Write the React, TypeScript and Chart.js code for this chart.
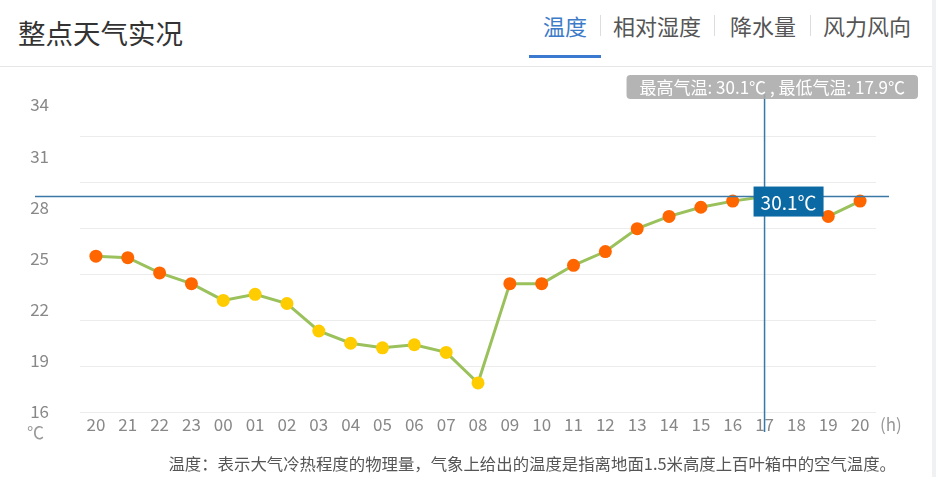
import React, { useEffect, useRef } from "react";
import { Chart, registerables } from "chart.js";

Chart.register(...registerables);

const hours = ["20", "21", "22", "23", "00", "01", "02", "03", "04", "05", "06", "07", "08", "09", "10", "11", "12", "13", "14", "15", "16", "17", "18", "19", "20"];
const temps = [26.2, 26.1, 25.1, 24.4, 23.3, 23.7, 23.1, 21.3, 20.5, 20.2, 20.4, 19.9, 17.9, 24.4, 24.4, 25.6, 26.5, 28.0, 28.8, 29.4, 29.8, 30.1, 29.5, 28.8, 29.8];
const yTickValues = [16, 19, 22, 25, 28, 31, 34];
const yLabelValues = [16, 19, 22, 25, 28, 31, 34];
const tabs = ["温度", "相对湿度", "降水量", "风力风向"];
const title = "整点天气实况";
const footnote = "温度：表示大气冷热程度的物理量，气象上给出的温度是指离地面1.5米高度上百叶箱中的空气温度。";
const warmThreshold = 24;

const FONT = "'Noto Sans CJK SC', 'Noto Sans', sans-serif";

const maxTemp = Math.max(...temps);
const minTemp = Math.min(...temps);
const maxIndex = temps.indexOf(maxTemp);

const crosshairPlugin = {
  id: "crosshair",
  afterDatasetsDraw(chart: any) {
    const { ctx, chartArea, scales } = chart;
    const x = scales.x.getPixelForValue(maxIndex);
    const y = scales.y.getPixelForValue(maxTemp);
    ctx.save();
    ctx.strokeStyle = "#3b78a6";
    ctx.lineWidth = 1.5;
    ctx.beginPath();
    ctx.moveTo(chartArea.left - 45, y);
    ctx.lineTo(chartArea.right + 13, y);
    ctx.stroke();
    ctx.beginPath();
    ctx.moveTo(x, 92);
    ctx.lineTo(x, chartArea.bottom + 20);
    ctx.stroke();

    // value box
    const label = `${maxTemp.toFixed(1)}℃`;
    ctx.font = `19px ${FONT}`;
    const bx = x - 11;
    const by = y - 10;
    const bw = 70;
    const bh = 30;
    ctx.fillStyle = "#0b69a3";
    ctx.fillRect(bx, by, bw, bh);
    ctx.fillStyle = "#ffffff";
    ctx.textAlign = "center";
    ctx.textBaseline = "middle";
    ctx.fillText(label, bx + bw / 2, by + bh / 2 + 1);

    // summary box
    const summary = `最高气温: ${maxTemp.toFixed(1)}℃ , 最低气温: ${minTemp.toFixed(1)}℃`;
    ctx.font = `17px ${FONT}`;
    const tw = ctx.measureText(summary).width;
    const sw = tw + 26;
    const sx = 918 - sw;
    const sy = 75;
    const sh = 24;
    ctx.fillStyle = "rgba(170,170,170,0.88)";
    ctx.beginPath();
    (ctx as any).roundRect(sx, sy, sw, sh, 4);
    ctx.fill();
    ctx.fillStyle = "#ffffff";
    ctx.fillText(summary, sx + sw / 2, sy + sh / 2 + 1);
    ctx.restore();
  },
};

export default function App() {
  const canvasRef = useRef<HTMLCanvasElement | null>(null);

  useEffect(() => {
    document.body.style.margin = "0";
    const canvas = canvasRef.current;
    if (!canvas) return;
    const chart = new Chart(canvas, {
      type: "line",
      data: {
        labels: hours,
        datasets: [
          {
            data: temps,
            borderColor: "#9bc15d",
            borderWidth: 3,
            pointRadius: 6.5,
            pointHoverRadius: 6.5,
            pointBorderWidth: 0,
            pointBackgroundColor: (c: any) => (temps[c.dataIndex] >= warmThreshold ? "#ff6600" : "#ffcc00"),
            pointBorderColor: (c: any) => (temps[c.dataIndex] >= warmThreshold ? "#ff6600" : "#ffcc00"),
            tension: 0,
            fill: false,
            yAxisID: "y",
          },
        ],
      },
      options: {
        animation: false,
        responsive: false,
        maintainAspectRatio: false,
        events: [],
        layout: { padding: { left: 0, right: 60, top: 105, bottom: 35 } },
        plugins: { legend: { display: false }, tooltip: { enabled: false }, title: { display: false } },
        scales: {
          x: {
            type: "category",
            offset: true,
            grid: { display: false, drawTicks: false },
            border: { display: false },
            ticks: {
              color: "#888",
              font: { size: 17, family: FONT },
              padding: 2,
              maxRotation: 0,
              autoSkip: false,
            },
            afterFit: (s: any) => {
              s.height = 30;
            },
          },
          yl: {
            type: "linear",
            position: "left",
            min: 16,
            max: 34,
            grid: { display: false, drawTicks: false },
            border: { display: false },
            afterBuildTicks: (s: any) => {
              s.ticks = yLabelValues.map((v) => ({ value: v }));
            },
            ticks: {
              color: "#888",
              font: { size: 17, family: FONT },
              padding: 31,
            },
            afterFit: (s: any) => {
              s.width = 80;
            },
            weight: 1,
          },
          y: {
            type: "linear",
            position: "left",
            min: 16,
            max: 36.09,
            grid: { color: "#ececec", lineWidth: 1, drawTicks: false },
            border: { display: false },
            afterBuildTicks: (s: any) => {
              s.ticks = yTickValues.map((v) => ({ value: v }));
            },
            ticks: { display: false },
            afterFit: (s: any) => {
              s.width = 0;
            },
            weight: 0,
          },
        },
      },
      plugins: [crosshairPlugin],
    } as any);
    return () => chart.destroy();
  }, []);

  const tabX = [543, 613, 730, 823];
  const sepX = [600, 714, 810];

  return (
    <div style={{ position: "relative", width: 936, height: 477, background: "#fff", overflow: "hidden", fontFamily: FONT }}>
      <div style={{ position: "absolute", left: 18, top: 13, fontSize: 27.5, lineHeight: "38px", color: "#333", whiteSpace: "nowrap" }}>{title}</div>
      {tabs.map((t, i) => (
        <div
          key={t}
          style={{
            position: "absolute",
            left: tabX[i],
            top: 9,
            fontSize: 22,
            lineHeight: "32px",
            color: i === 0 ? "#3d7bc8" : "#555",
            whiteSpace: "nowrap",
          }}
        >
          {t}
        </div>
      ))}
      {sepX.map((x) => (
        <div key={x} style={{ position: "absolute", left: x, top: 15, width: 1, height: 21, background: "#dddddd" }} />
      ))}
      <div style={{ position: "absolute", left: 529, top: 55, width: 72, height: 3, background: "#3b78d0" }} />
      <div style={{ position: "absolute", left: 0, top: 66, width: 932, height: 1, background: "#e6e6e6" }} />
      <div style={{ position: "absolute", left: 932, top: 0, width: 4, height: 477, background: "#eff1f3" }} />
      <canvas ref={canvasRef} width={936} height={477} style={{ position: "absolute", left: 0, top: 0, width: 936, height: 477 }} />
      <div style={{ position: "absolute", left: 27, top: 420, fontSize: 17, lineHeight: "24px", color: "#999" }}>℃</div>
      <div style={{ position: "absolute", left: 880, top: 412, fontSize: 17, lineHeight: "24px", color: "#999" }}>(h)</div>
      <div style={{ position: "absolute", right: 40, top: 451, fontSize: 16.4, lineHeight: "24px", color: "#555", whiteSpace: "nowrap" }}>{footnote}</div>
    </div>
  );
}
